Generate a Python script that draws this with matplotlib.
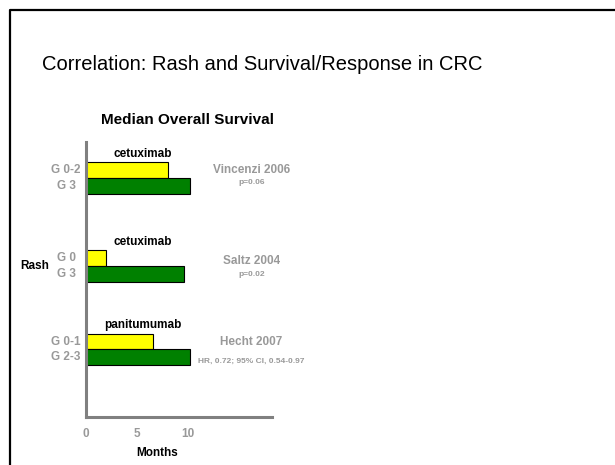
import matplotlib
matplotlib.use("Agg")
import matplotlib.pyplot as plt
from matplotlib.lines import Line2D
import matplotlib.transforms as mtransforms

plt.rcParams['font.family'] = ['Liberation Sans', 'DejaVu Sans']

# data (months)
drugs = ['cetuximab', 'cetuximab', 'panitumumab']
studies = ['Vincenzi 2006', 'Saltz 2004', 'Hecht 2007']
stats = ['p=0.06', 'p=0.02', 'HR, 0.72; 95% CI, 0.54-0.97']
low_labels = ['G 0-2', 'G 0', 'G 0-1']
high_labels = ['G 3', 'G 3', 'G 2-3']
low_months = [8.0, 2.0, 6.6]
high_months = [10.2, 9.6, 10.2]
xticks = [0, 5, 10]

GRAY = '#999999'
fig = plt.figure(figsize=(6.15, 4.65), dpi=100)
W, H = 615, 465

# slide border (top + left)
fig.add_artist(Line2D([10 / W, 10 / W, 1], [0, 1 - 10 / H, 1 - 10 / H],
                      transform=fig.transFigure, color='black', lw=1.6))

fig.text(262 / W, 1 - 65 / H, 'Correlation: Rash and Survival/Response in CRC',
         ha='center', va='center', fontsize=14.5)
fig.text(188 / W, 1 - 120 / H, 'Median Overall Survival', ha='center',
         va='center', fontsize=11, fontweight='bold')

ax = fig.add_axes([86 / W, 48 / H, 186 / W, 275 / H])
centers = [2.3, 7.9, 13.2]
ax.barh([c - 0.5 for c in centers], low_months, height=1.0, color='#FFFF00',
        edgecolor='black', linewidth=0.8)
ax.barh([c + 0.5 for c in centers], high_months, height=1.0, color='#008000',
        edgecolor='black', linewidth=0.8)

ax.set_xlim(0, 18.2)
ax.set_ylim(17.5, 0)
ax.set_yticks([])
ax.set_xticks(xticks)
ax.tick_params(axis='x', length=0, pad=8, labelcolor=GRAY, labelsize=8.5)
for lab in ax.get_xticklabels():
    lab.set_fontweight('bold')
for s in ['top', 'right']:
    ax.spines[s].set_visible(False)
for s in ['left', 'bottom']:
    ax.spines[s].set_color('#808080')
    ax.spines[s].set_linewidth(2.2)

# per-group vertical offsets of the study name / statistic text
study_dy = [-0.52, -0.3, -0.46]
stat_dy = [0.25, 0.5, 0.75]

trans = mtransforms.blended_transform_factory(ax.transAxes, ax.transData)
for i, c in enumerate(centers):
    ax.text(5.6, c - 1.55, drugs[i], ha='center', va='center',
            fontsize=8.5, fontweight='bold')
    ax.text(-0.1075, c - 0.5, low_labels[i], transform=trans, ha='center',
            va='center', fontsize=8.5, fontweight='bold', color=GRAY)
    ax.text(-0.1075, c + 0.5, high_labels[i], transform=trans, ha='center',
            va='center', fontsize=8.5, fontweight='bold', color=GRAY)
    ax.text(16.2, c + study_dy[i], studies[i], ha='center', va='center',
            fontsize=8.5, fontweight='bold', color=GRAY, clip_on=False)
    ax.text(16.2, c + stat_dy[i], stats[i], ha='center', va='center',
            fontsize=6, fontweight='bold', color=GRAY, clip_on=False)

ax.text(-0.274, centers[1], 'Rash', transform=trans, ha='center', va='center',
        fontsize=8.5, fontweight='bold')
fig.text(157 / W, 1 - 453 / H, 'Months', ha='center', va='center',
         fontsize=8.5, fontweight='bold')

fig.savefig('out.png', dpi=100)
